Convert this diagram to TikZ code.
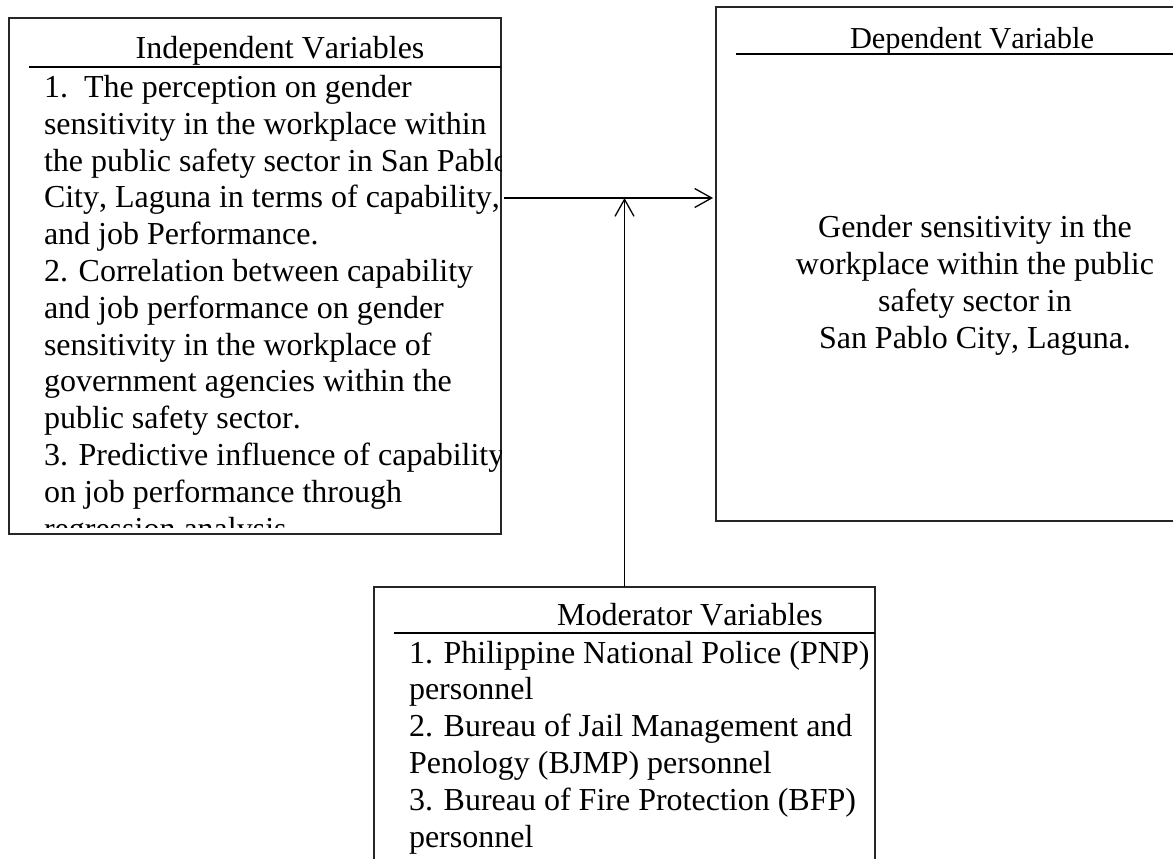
\documentclass[tikz,border=0pt]{standalone}
\usepackage{fontspec}
\setmainfont[Kerning=Off]{Liberation Serif}
\usetikzlibrary{arrows.meta,fit}
\begin{document}
\begin{tikzpicture}[x=0.5pt,y=-0.5pt,
  txt/.style={font=\fontsize{16}{18.4}\selectfont, inner sep=0pt, outer sep=0pt},
  boxshape/.style={draw=black!85, line width=0.6pt, inner sep=0pt, outer sep=0pt},
  hdr/.style={draw=black, line width=1pt},
  arr/.style={draw=black, line width=0.65pt, -{Straight Barb[length=8.5pt,width=9.5pt]}}]
\clip (0,0) rectangle (1173,858);
\fill[white] (0,0) rectangle (1173,858);
% boxes
\node[boxshape, fit={(9,18) (501,534)}] (ind) {};
\node[boxshape, fit={(716,7) (1190,521)}] (dep) {};
\node[boxshape, fit={(374,587) (875,880)}] (mod) {};
% header rules
\draw[hdr] (29,67) -- (501,67);
\draw[hdr] (736,54) -- (1173,54);
\draw[hdr] (394,633) -- (875,633);
% titles
\node[txt, anchor=base] (indt) at (280,58) {Independent Variables};
\node[txt, anchor=base, font=\fontsize{15.2}{17.5}\selectfont] (dept) at (972,48) {Dependent Variable};
\node[txt, anchor=base] (modt) at (690,625) {Moderator Variables};
% independent text (clipped)
\begin{scope}
\clip (9,18) rectangle (501,527);
\node[txt, anchor=base west, align=left] (indb) at (44,539) {1.\ \ The perception on gender\\
sensitivity in the workplace within\\
the public safety sector in San Pablo\\
City, Laguna in terms of capability,\\
and job Performance.\\
2. Correlation between capability\\
and job performance on gender\\
sensitivity in the workplace of\\
government agencies within the\\
public safety sector.\\
3. Predictive influence of capability\\
on job performance through\\
regression analysis};
\end{scope}
% dependent text
\node[txt, anchor=base, align=center] (depb) at (975,348) {Gender sensitivity in the\\
workplace within the public\\
safety sector in\\
San Pablo City, Laguna.};
% moderator text
\node[txt, anchor=base west, align=left] (modb) at (409,847) {1. Philippine National Police (PNP)\\
personnel\\
2. Bureau of Jail Management and\\
Penology (BJMP) personnel\\
3. Bureau of Fire Protection (BFP)\\
personnel};
% connectors
\coordinate (j) at (mod.north |- 0,198);
\draw[arr] ([xshift=1.5pt]ind.east |- j) -- ([xshift=-1.5pt]dep.west |- j);
\draw[arr] (mod.north) -- (j);
\end{tikzpicture}
\end{document}
